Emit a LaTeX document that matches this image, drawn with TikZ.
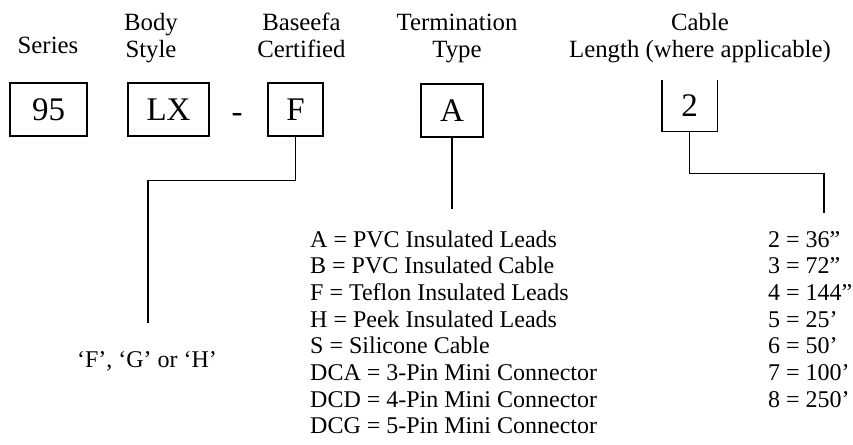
\documentclass[tikz,border=0pt]{standalone}
\usepackage{fontspec}
\setmainfont{Liberation Serif}
\usetikzlibrary{positioning}
\begin{document}
\begin{tikzpicture}[x=1pt,y=-1pt,
  boxtext/.style={minimum height=53pt,inner sep=0pt,font=\fontsize{33}{36}\selectfont},
  codebox/.style={boxtext,draw,line width=1.4pt},
  head/.style={align=center,anchor=base,inner sep=0pt,font=\fontsize{24.8}{27}\selectfont},
  item/.style={anchor=base west,inner sep=0pt,font=\fontsize{24}{27}\selectfont},
  link/.style={line width=1.4pt}]
  \useasboundingbox (0,0) rectangle (853,444);
  % Kopfzeile
  \node[head] (hseries) at (48,53) {Series};
  \node[head] (hbody) at (151,57) {Body\\Style};
  \node[head] (hcert) at (301.5,57) {Baseefa\\Certified};
  \node[head] (hterm) at (457,57) {Termination\\Type};
  \node[head] (hlen) at (700,57) {Cable\\Length (where applicable)};
  % Kaestchen
  \node[codebox,minimum width=77pt] (series) at (48.5,109.5) {95};
  \node[codebox,minimum width=81pt] (body) at (168.5,109.5) {LX};
  \node[boxtext,anchor=base] (dash) at (237,122) {-};
  \node[codebox,minimum width=55pt] (cert) at (295.5,109.5) {F};
  \node[codebox,minimum width=62pt] (term) at (452,110.5) {A};
  \node[boxtext,minimum width=55pt,minimum height=51pt] (cablelen) at (689.5,105.5) {2};
  \draw[link] (cablelen.north west) -- (cablelen.south west) -- (cablelen.south east) -- (cablelen.north east);
  % Optionen
  \node[item,anchor=base] (certopt) at (147,367) {‘F’, ‘G’ or ‘H’};
  \foreach \t [count=\i] in {A = PVC Insulated Leads, B = PVC Insulated Cable,
      F = Teflon Insulated Leads, H = Peek Insulated Leads, S = Silicone Cable,
      DCA = 3-Pin Mini Connector, DCD = 4-Pin Mini Connector, DCG = 5-Pin Mini Connector}
    \node[item] (term\i) at (310,{247+26.7*(\i-1)}) {\t};
  \foreach \t [count=\i] in {2 = 36”, 3 = 72”, 4 = 144”, 5 = 25’, 6 = 50’, 7 = 100’, 8 = 250’}
    \node[item] (len\i) at (768,{247+26.7*(\i-1)}) {\t};
  % Linien
  \coordinate (certend) at (148,323);
  \coordinate (termend) at (452,209);
  \coordinate (lenend) at (824,213);
  \draw[link] (cert.south) -- ++(0,44) -| (certend);
  \draw[link] (term.south) -- (termend);
  \draw[link] (cablelen.south) -- ++(0,42) -| (lenend);
\end{tikzpicture}
\end{document}
